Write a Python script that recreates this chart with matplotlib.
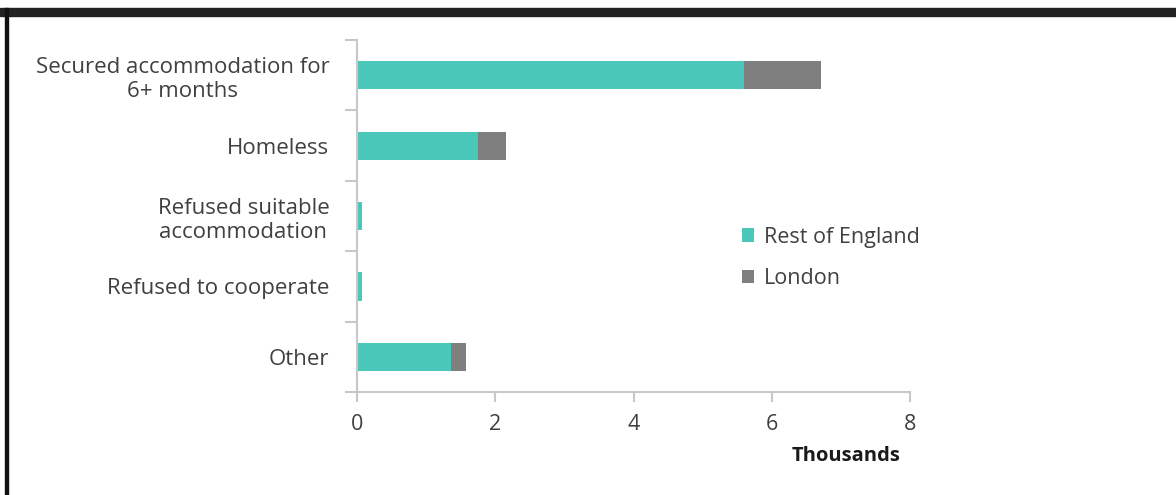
import matplotlib

matplotlib.use("Agg")
import matplotlib.pyplot as plt
from matplotlib.patches import Rectangle

# outcome categories, top to bottom (thousands of households)
categories = [
    "Secured accommodation for\n6+ months",
    "Homeless",
    "Refused suitable\naccommodation",
    "Refused to cooperate",
    "Other",
]
rest_of_england = [5.60, 1.75, 0.07, 0.07, 1.36]
london = [1.11, 0.41, 0.0, 0.0, 0.22]
x_ticks = [0, 2, 4, 6, 8]

TEAL = "#4bc7ba"
GREY = "#7f7f7f"
TEXT = "#404040"
AXIS = "#c8c8c8"

plt.rcParams["font.family"] = ["Open Sans", "DejaVu Sans"]

fig = plt.figure(figsize=(11.76, 4.95), dpi=100)
ax = fig.add_axes([0.3036, 0.208, 0.4704, 0.711])

ypos = list(range(len(categories)))
ax.barh(ypos, rest_of_england, height=0.4, color=TEAL, label="Rest of England")
ax.barh(ypos, london, left=rest_of_england, height=0.4, color=GREY, label="London")

ax.set_ylim(len(categories) - 0.5, -0.5)
ax.set_xlim(0, 8)
ax.set_xticks(x_ticks)
ax.set_xticklabels([str(t) for t in x_ticks])

# category separators as ticks on the y axis
ax.set_yticks([i - 0.5 for i in range(len(categories) + 1)])
ax.set_yticklabels([])
ax.set_yticks(ypos, minor=True)
ax.set_yticklabels(categories, minor=True, multialignment="center",
                   fontsize=16, color=TEXT)
ax.tick_params(axis="y", which="minor", length=0, pad=20)
ax.tick_params(axis="y", which="major", length=9, color=AXIS, width=1.5)
ax.tick_params(axis="x", length=7, color=AXIS, width=1.5, labelsize=15.5,
               labelcolor=TEXT, pad=9)

for side in ("top", "right"):
    ax.spines[side].set_visible(False)
for side in ("left", "bottom"):
    ax.spines[side].set_color(AXIS)
    ax.spines[side].set_linewidth(1.5)

ax.text(0.983, -0.182, "Thousands", transform=ax.transAxes, ha="right",
        va="center", fontsize=14.5, fontweight="bold", color="#1a1a1a")

ax.legend(loc="upper left", bbox_to_anchor=(0.66, 0.525), frameon=False,
          fontsize=15.5, handlelength=0.6, handleheight=0.6,
          handletextpad=0.45, labelspacing=0.95, labelcolor=TEXT)

# dark frame along the top and left edges
fig.patches.append(Rectangle((0, 1 - 16 / 495), 1, 8 / 495,
                             transform=fig.transFigure, color="#222222"))
fig.patches.append(Rectangle((5 / 1176, 0), 3 / 1176, 1 - 8 / 495,
                             transform=fig.transFigure, color="#111111"))

fig.savefig("out.png", dpi=100)
